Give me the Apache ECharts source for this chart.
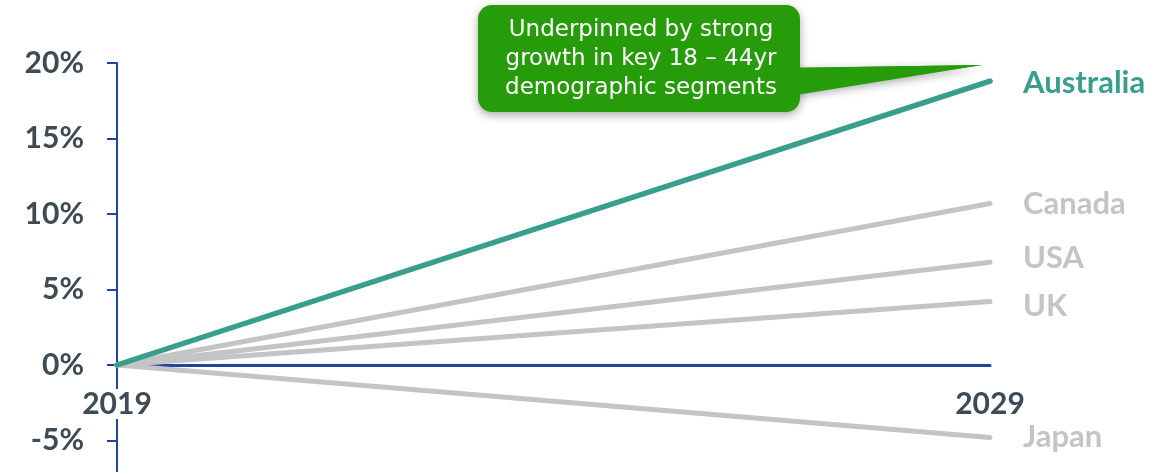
<!DOCTYPE html>
<html>
<head>
<meta charset="utf-8">
<script src="https://cdn.jsdelivr.net/npm/echarts@6/dist/echarts.min.js"></script>
<style>
html,body{margin:0;padding:0;background:#fff;}
#c{width:1176px;height:472px;}
</style>
</head>
<body>
<div id="c"></div>
<script>
const years = ['2019', '2029'];
const australia = [0, 18.8];
const canada = [0, 10.7];
const usa = [0, 6.8];
const uk = [0, 4.2];
const japan = [0, -4.8];
const yTicks = { min: -10, max: 20, interval: 5 };

const FONT = 'Lato';
const CALLOUT_FONT = '"DejaVu Sans"';
const GREY = '#c4c4c4';
const TEAL = '#3a9e8f';
const BLUE = '#1f45a3';
const LABEL = '#3e4a54';
const GRID_H = 453;
// place the category axis on the 0% value of the y scale
const zeroOffset = -((0 - yTicks.min) / (yTicks.max - yTicks.min)) * GRID_H;

function line(name, data, color, width, offY, z) {
  return {
    name: name, type: 'line', data: data, symbol: 'none', z: z,
    lineStyle: { color: color, width: width, cap: 'round' },
    endLabel: {
      show: true, formatter: '{a}', offset: [25, offY],
      color: color, fontFamily: FONT, fontWeight: 'bold', fontSize: 31
    },
    emphasis: { disabled: true }, silent: true
  };
}

const chart = echarts.init(document.getElementById('c'), null, { renderer: 'canvas' });
chart.setOption({
  animation: false,
  grid: { left: 117, right: 186, top: 63, height: GRID_H, containLabel: false, outerBoundsMode: 'none' },
  xAxis: {
    type: 'category', data: years, boundaryGap: false,
    offset: zeroOffset,
    axisLine: { onZero: false, lineStyle: { color: BLUE, width: 3 } },
    axisTick: { show: false },
    axisLabel: {
      margin: 24, color: LABEL, fontFamily: FONT, fontWeight: 'bold', fontSize: 30,
      backgroundColor: '#fff', padding: [0, 2]
    },
    splitLine: { show: false }, z: 1
  },
  yAxis: {
    type: 'value', min: yTicks.min, max: yTicks.max, interval: yTicks.interval,
    axisLine: { show: true, onZero: false, lineStyle: { color: BLUE, width: 2 } },
    axisTick: { show: true, length: 10, lineStyle: { color: BLUE, width: 2 } },
    axisLabel: {
      margin: 33, color: LABEL, fontFamily: FONT, fontWeight: 'bold', fontSize: 30,
      formatter: '{value}%'
    },
    splitLine: { show: false }, z: 0
  },
  series: [
    line('Japan', japan, GREY, 5, 0, 2),
    line('UK', uk, GREY, 5, 4, 2),
    line('USA', usa, GREY, 5, -4, 2),
    line('Canada', canada, GREY, 5, 1, 2),
    line('Australia', australia, TEAL, 5.5, 2, 3)
  ],
  graphic: [{
    type: 'group', z: 10,
    children: [
      {
        type: 'polygon',
        shape: { points: [[780, 68], [982, 65], [780, 96]] },
        style: { fill: '#269c0b', shadowBlur: 10, shadowColor: 'rgba(0,0,0,0.35)', shadowOffsetY: 3 }
      },
      {
        type: 'rect',
        shape: { x: 478, y: 5, width: 322, height: 107, r: 14 },
        style: { fill: '#269c0b', shadowBlur: 10, shadowColor: 'rgba(0,0,0,0.35)', shadowOffsetY: 3 }
      },
      {
        type: 'polygon',
        shape: { points: [[790, 68], [982, 65], [790, 96]] },
        style: { fill: '#269c0b' }
      },
      {
        type: 'text', x: 641, y: 59,
        style: {
          text: 'Underpinned by strong\ngrowth in key 18 – 44yr\ndemographic segments',
          fill: '#ffffff', fontFamily: CALLOUT_FONT, fontSize: 23, lineHeight: 29,
          align: 'center', verticalAlign: 'middle'
        }
      }
    ]
  }]
});
</script>
</body>
</html>
